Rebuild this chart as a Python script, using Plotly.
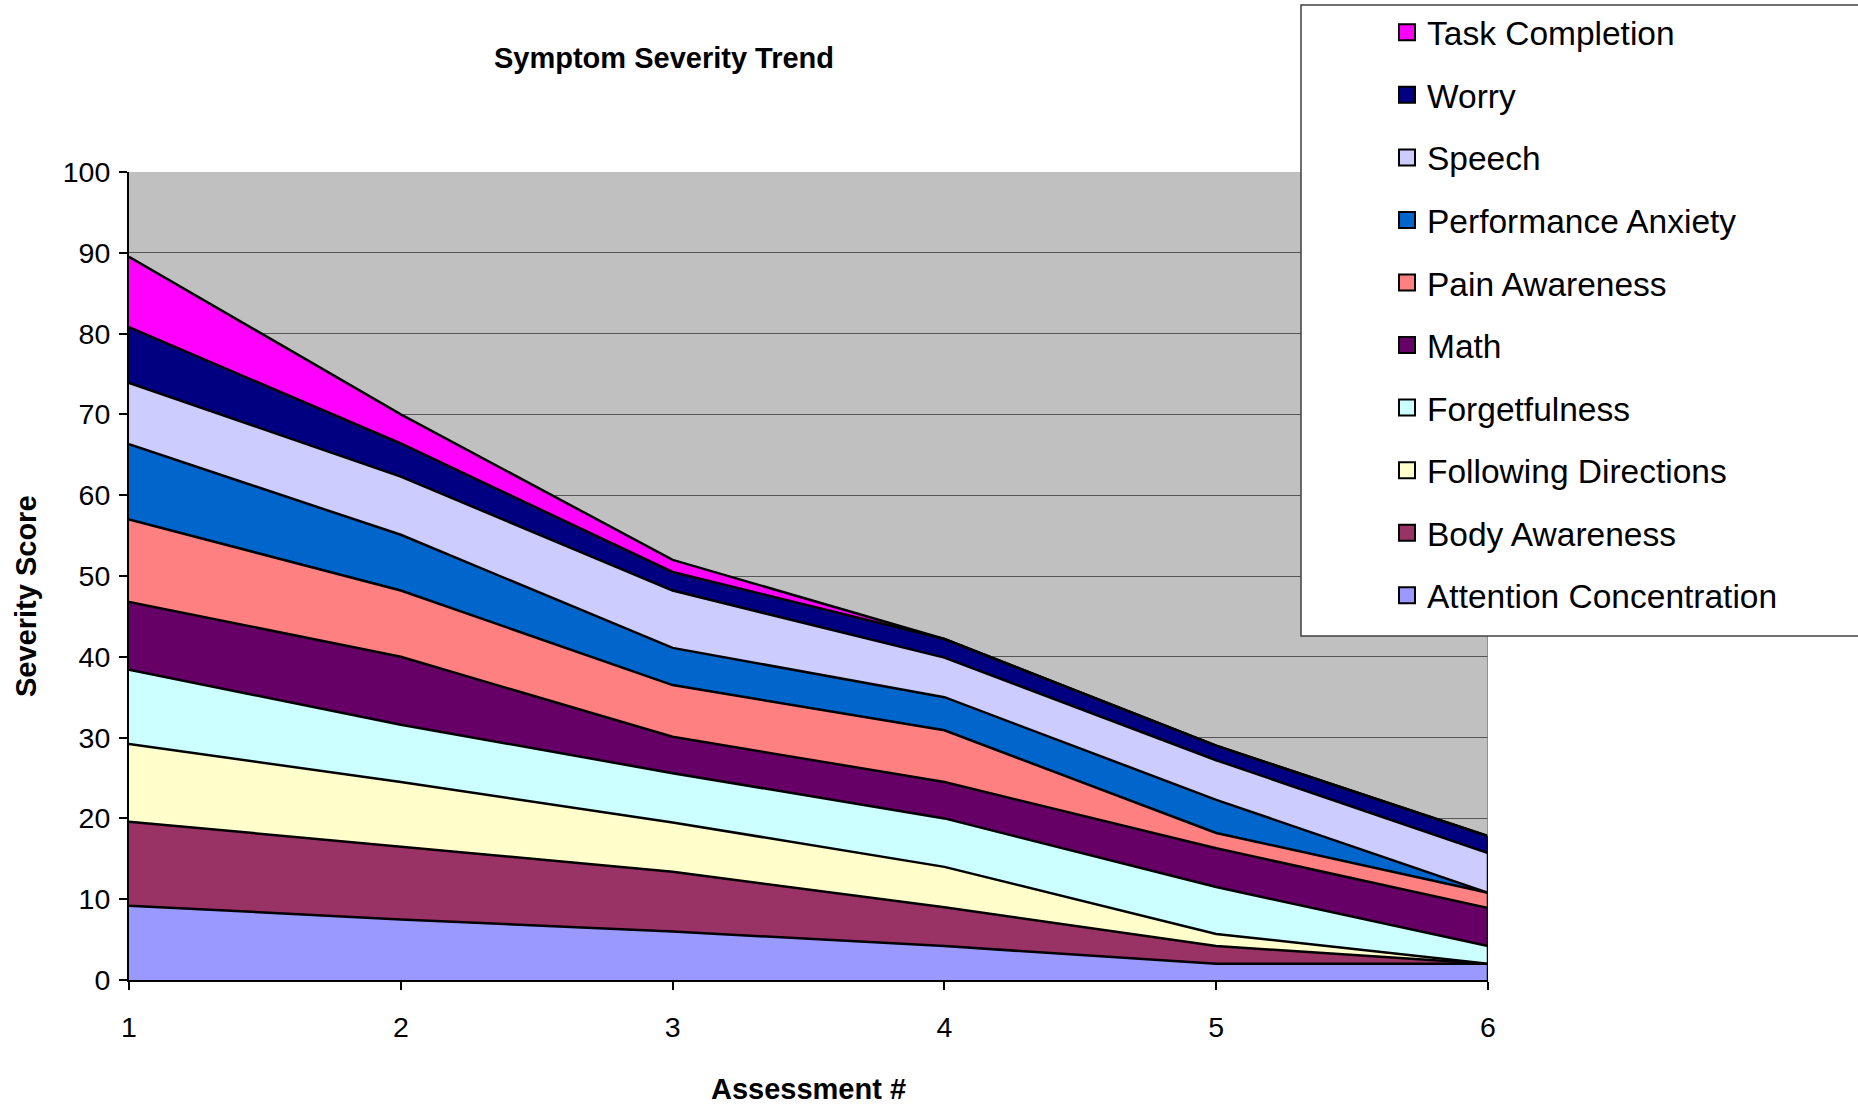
import plotly.graph_objects as go

assessments = [1, 2, 3, 4, 5, 6]

series_names = [
    "Attention Concentration", "Body Awareness", "Following Directions",
    "Forgetfulness", "Math", "Pain Awareness", "Performance Anxiety",
    "Speech", "Worry", "Task Completion",
]
attention = [9.2, 7.5, 6.0, 4.2, 2.0, 2.0]
body = [10.4, 9.0, 7.4, 4.8, 2.2, 0.0]
following = [9.6, 8.0, 6.1, 5.0, 1.5, 0.0]
forgetfulness = [9.2, 7.1, 6.1, 6.0, 5.8, 2.2]
math_ = [8.4, 8.4, 4.5, 4.5, 4.8, 4.7]
pain = [10.2, 8.2, 6.4, 6.4, 1.9, 1.9]
performance = [9.3, 6.9, 4.6, 4.1, 4.1, 0.0]
speech = [7.6, 7.2, 7.1, 4.9, 4.9, 4.9]
worry = [6.9, 4.1, 2.3, 2.3, 1.8, 2.1]
task = [8.7, 3.6, 1.5, 0.0, 0.0, 0.0]
series_values = [attention, body, following, forgetfulness, math_, pain,
                 performance, speech, worry, task]
colors = ["#9999FF", "#993366", "#FFFFCC", "#CCFFFF", "#660066", "#FF8080",
          "#0066CC", "#CCCCFF", "#000080", "#FF00FF"]

FONT = "Liberation Sans, Arial, sans-serif"
W, H = 1858, 1105
L, R, T, B = 129, 1488, 172, 980

fig = go.Figure()
for name, vals, col in zip(series_names, series_values, colors):
    fig.add_trace(go.Scatter(
        x=assessments, y=vals, name=name, stackgroup="one", mode="lines",
        line=dict(color="black", width=2.5), fillcolor=col,
        showlegend=False, hoverinfo="x+y+name"))

# legend entries (square swatches), top to bottom
for name, col in reversed(list(zip(series_names, colors))):
    fig.add_trace(go.Scatter(
        x=[None], y=[None], mode="markers", name=name, legendgroup=name,
        marker=dict(symbol="square", size=21, color=col,
                    line=dict(color="black", width=2))))

pw, ph = R - L, B - T
last_total = sum(v[-1] for v in series_values)
# right edge of the plot frame and of the stacked areas
fig.add_shape(type="line", xref="x", yref="y", layer="above",
              x0=assessments[-1], x1=assessments[-1], y0=0, y1=100,
              line=dict(color="#808080", width=1.5))
fig.add_shape(type="line", xref="x", yref="y", layer="above",
              x0=assessments[-1], x1=assessments[-1], y0=0, y1=last_total,
              line=dict(color="black", width=2.5))
# legend frame
fig.add_shape(type="rect", xref="paper", yref="paper", layer="above",
              x0=(1301 - L) / pw, x1=(1870 - L) / pw,
              y0=(B - 636) / ph, y1=(B - 5) / ph,
              fillcolor="white", line=dict(color="#404040", width=1.5))

# y-axis title (placed like the original, slightly below the axis centre)
fig.add_annotation(text="Severity Score", textangle=-90, showarrow=False,
                   xref="paper", yref="paper",
                   x=(26 - L) / pw, y=(B - 596) / ph,
                   xanchor="center", yanchor="middle",
                   font=dict(family=FONT, size=29, weight="bold",
                             color="black"))

fig.update_layout(
    width=W, height=H,
    margin=dict(l=L, r=W - R, t=T, b=H - B, autoexpand=False),
    paper_bgcolor="white", plot_bgcolor="#C0C0C0",
    font=dict(family=FONT, color="black"),
    title=dict(text="Symptom Severity Trend", x=664 / W, xanchor="center",
               y=1 - 58 / H, yanchor="middle",
               font=dict(family=FONT, size=29, weight="bold")),
    legend=dict(x=(1387 - L) / pw, xanchor="left", y=(B - 4) / ph,
                yanchor="top", bgcolor="rgba(0,0,0,0)", borderwidth=0,
                font=dict(family=FONT, size=33.5, color="black"),
                traceorder="grouped", tracegroupgap=16, maxheight=1100),
    showlegend=True,
)
fig.update_xaxes(range=[1, 6], tickvals=assessments, ticks="outside",
                 ticklen=8, tickwidth=1.5, tickcolor="black",
                 showline=True, linecolor="black", linewidth=2,
                 showgrid=False, zeroline=False,
                 tickfont=dict(family=FONT, size=28.5, color="black"),
                 ticklabelstandoff=13,
                 title=dict(text="Assessment #", standoff=42,
                            font=dict(family=FONT, size=29, weight="bold")))
fig.update_yaxes(range=[0, 100], dtick=10, ticks="outside", ticklen=8,
                 tickwidth=1.5, tickcolor="black",
                 showline=True, linecolor="black", linewidth=2,
                 showgrid=True, gridcolor="#555555", gridwidth=1.2,
                 zeroline=False,
                 tickfont=dict(family=FONT, size=28.5, color="black"),
                 ticklabelstandoff=3)

fig.write_html("out.html", config={"displayModeBar": False},
               post_script="document.body.style.margin='0';")
